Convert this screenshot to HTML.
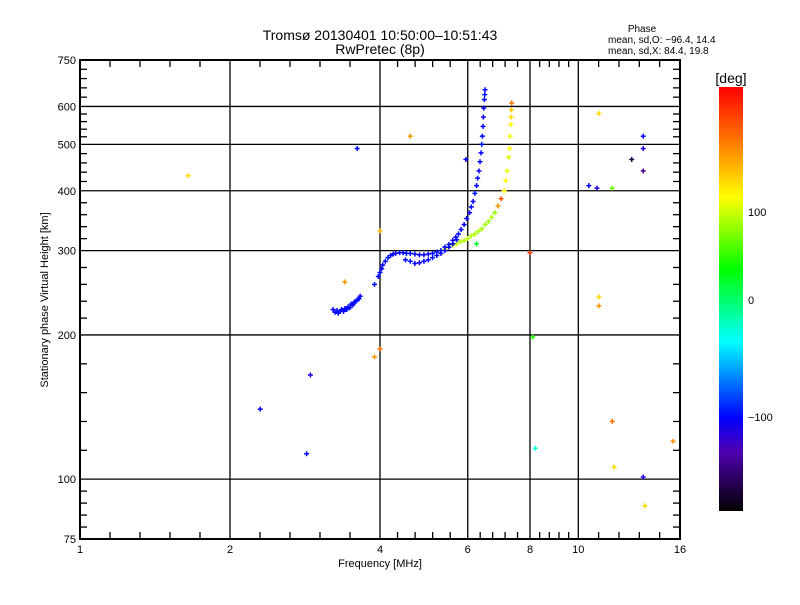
<!DOCTYPE html>
<html><head><meta charset="utf-8"><style>
body{margin:0;background:#fff;width:800px;height:600px;overflow:hidden}
svg text{font-family:"Liberation Sans",sans-serif;fill:#000}
</style></head><body>
<svg id="c" width="800" height="600">
<defs><linearGradient id="cb" x1="0" y1="0" x2="0" y2="1">
<stop offset="0" stop-color="#ff0000"/><stop offset="0.12" stop-color="#ff7000"/><stop offset="0.26" stop-color="#ffff00"/>
<stop offset="0.43" stop-color="#00ff00"/><stop offset="0.6" stop-color="#00ffff"/><stop offset="0.78" stop-color="#0000ff"/>
<stop offset="0.86" stop-color="#5000b0"/><stop offset="1" stop-color="#000000"/></linearGradient></defs>
<text x="380" y="40" font-size="14" text-anchor="middle">Tromsø 20130401 10:50:00–10:51:43</text>
<text x="380" y="54" font-size="14" text-anchor="middle">RwPretec (8p)</text>
<text x="642" y="32" font-size="10" text-anchor="middle">Phase</text>
<text x="608" y="43" font-size="10">mean, sd,O: −96.4, 14.4</text>
<text x="608" y="54" font-size="10">mean, sd,X:  84.4, 19.8</text>
<g id="grid"></g><g id="marks"></g>
<rect x="80" y="60" width="600" height="479" fill="none" stroke="#000" stroke-width="2"/>
<text x="380" y="567" font-size="11" text-anchor="middle">Frequency [MHz]</text>
<text transform="translate(48,300) rotate(-90)" font-size="11" text-anchor="middle">Stationary phase Virtual Height [km]</text>
<rect x="719" y="87" width="24" height="424" fill="url(#cb)"/>
<text x="731" y="83" font-size="14" text-anchor="middle">[deg]</text>
<text x="748" y="216" font-size="11">100</text>
<text x="748" y="304" font-size="11">0</text>
<text x="748" y="421" font-size="11">−100</text>
</svg>
<script>
const xMajors=[1,2,4,6,8,10,16];
const yMajors=[75,100,200,300,400,500,600,750];
const oFreq=[3.22,3.25,3.28,3.3,3.33,3.35,3.38,3.4,3.43,3.45,3.48,3.5,3.53,3.55,3.58,3.6,3.63,3.65,3.9,3.97,4.0,4.03,4.05,4.1,4.15,4.2,4.25,4.3,4.38,4.45,4.52,4.6,4.7,4.8,4.9,5.0,5.1,5.2,5.3,5.4,5.5,5.6,5.68,5.75,5.82,5.9,5.97,6.05,6.1,6.15,6.2,6.25,6.28,6.32,6.35,6.38,6.4,6.42,6.44,6.45,6.46,6.48,6.49,6.5,4.5,4.6,4.7,4.8,4.9,5.0,5.1,5.2,5.3,5.4,5.5,5.6,5.7];
const oHeight=[226,223,225,222,224,226,224,227,226,229,228,232,231,234,235,237,238,241,255,265,270,275,280,285,290,293,295,296,297,297,296,296,295,294,294,295,296,298,300,305,309,315,320,325,332,340,350,360,370,380,395,410,425,440,460,480,500,520,545,570,595,620,635,650,287,285,282,283,285,287,290,293,296,300,305,310,316];
const oPhase=[-100,-105,-100,-100,-95,-100,-105,-100,-100,-95,-100,-100,-105,-100,-100,-95,-100,-100,-95,-100,-100,-105,-100,-100,-95,-100,-100,-105,-100,-100,-95,-100,-100,-100,-105,-100,-100,-95,-100,-100,-100,-105,-100,-95,-100,-100,-100,-105,-100,-100,-95,-100,-100,-105,-100,-100,-95,-100,-100,-105,-100,-100,-95,-100,-100,-95,-100,-105,-100,-100,-95,-100,-100,-105,-100,-100,-100];
const xFreq=[5.3,5.4,5.5,5.6,5.7,5.8,5.9,6.0,6.1,6.2,6.3,6.4,6.5,6.6,6.7,6.8,6.9,7.0,7.1,7.15,7.2,7.25,7.28,7.3,7.32,7.33,7.34,7.35];
const xHeight=[300,302,305,308,310,313,315,318,322,325,329,333,340,345,352,360,372,385,400,420,440,470,490,520,550,570,590,610];
const xPhase=[90,90,85,85,85,80,80,80,80,80,75,75,75,70,75,70,130,150,100,100,95,90,100,95,100,110,115,140];
const sFreq=[1.65,3.6,4.6,5.95,10.5,10.9,11.7,11,12.8,13.5,13.5,13.5,2.3,2.9,2.85,3.9,4.0,8.0,8.1,8.2,11,11,11.7,11.8,13.5,13.6,15.5,4.0,3.4,6.25];
const sHeight=[430,490,520,465,410,405,405,580,465,520,490,440,140,165,113,180,187,297,198,116,240,230,132,106,101,88,120,330,258,310];
const sPhase=[110,-100,130,-100,-100,-110,60,110,-160,-100,-110,-140,-100,-110,-100,130,140,160,40,-30,110,130,140,110,-110,110,130,120,130,20];
const X=f=>80+150*Math.log2(f);
const Y=h=>539-479*Math.log10(h/75);
const NS="http://www.w3.org/2000/svg";
function mk(t,a,p){const e=document.createElementNS(NS,t);for(const k in a)e.setAttribute(k,a[k]);p.appendChild(e);return e;}
const g=document.getElementById('grid');
xMajors.forEach((v,i)=>{const x=X(v);
 if(i>0&&i<xMajors.length-1){const l=mk('line',{x1:x,x2:x,y1:60,y2:539,stroke:'#000','stroke-width':1.3},g);
 
 }
 const t=mk('text',{x:x,y:553,'font-size':11,'text-anchor':'middle'},g);t.textContent=v;
 
 
 if(i<xMajors.length-1){const x2=X(xMajors[i+1]);for(let k=1;k<5;k++){const xx=x+(x2-x)*k/5;
  mk('line',{x1:xx,x2:xx,y1:539,y2:532,stroke:'#000','stroke-width':1.3},g);
  mk('line',{x1:xx,x2:xx,y1:60,y2:67,stroke:'#000','stroke-width':1.3},g);}}
});
yMajors.forEach((v,i)=>{const y=Y(v);
 if(i>0&&i<yMajors.length-1){const l=mk('line',{x1:80,x2:680,y1:y,y2:y,stroke:'#000','stroke-width':1.3},g);
 
 }
 const t=mk('text',{x:76,y:y+4,'font-size':11,'text-anchor':'end'},g);t.textContent=v;
 
 
 if(i<yMajors.length-1){const y2=Y(yMajors[i+1]);for(let k=1;k<5;k++){const yy=y+(y2-y)*k/5;
  mk('line',{x1:80,x2:87,y1:yy,y2:yy,stroke:'#000','stroke-width':1.3},g);
  mk('line',{x1:673,x2:680,y1:yy,y2:yy,stroke:'#000','stroke-width':1.3},g);}}
});
const stops=[[180,[255,0,0]],[140,[255,112,0]],[100,[255,255,0]],[30,[0,255,0]],[-40,[0,255,255]],[-100,[0,0,255]],[-130,[80,0,176]],[-180,[0,0,0]]];
function col(p){for(let i=0;i<stops.length-1;i++){const a=stops[i],b=stops[i+1];if(p<=a[0]&&p>=b[0]){const t=(a[0]-p)/(a[0]-b[0]);const c=a[1].map((v,j)=>Math.round(v+(b[1][j]-v)*t));return 'rgb('+c+')';}}return p>0?'rgb(255,0,0)':'rgb(0,0,0)';}
const m=document.getElementById('marks');
function plot(F,H,P,name){F.forEach((f,i)=>{const x=X(f),y=Y(H[i]),c=col(P[i]);
 const gg=mk('g',{},m);
 
 
 mk('rect',{x:x-2.5,y:y-0.75,width:5,height:1.5,fill:c},gg);
 mk('rect',{x:x-0.75,y:y-2.5,width:1.5,height:5,fill:c},gg);});}
plot(sFreq,sHeight,sPhase,'scatter-point');
plot(xFreq,xHeight,xPhase,'x-trace-point');
plot(oFreq,oHeight,oPhase,'o-trace-point');
</script>
</body></html>
